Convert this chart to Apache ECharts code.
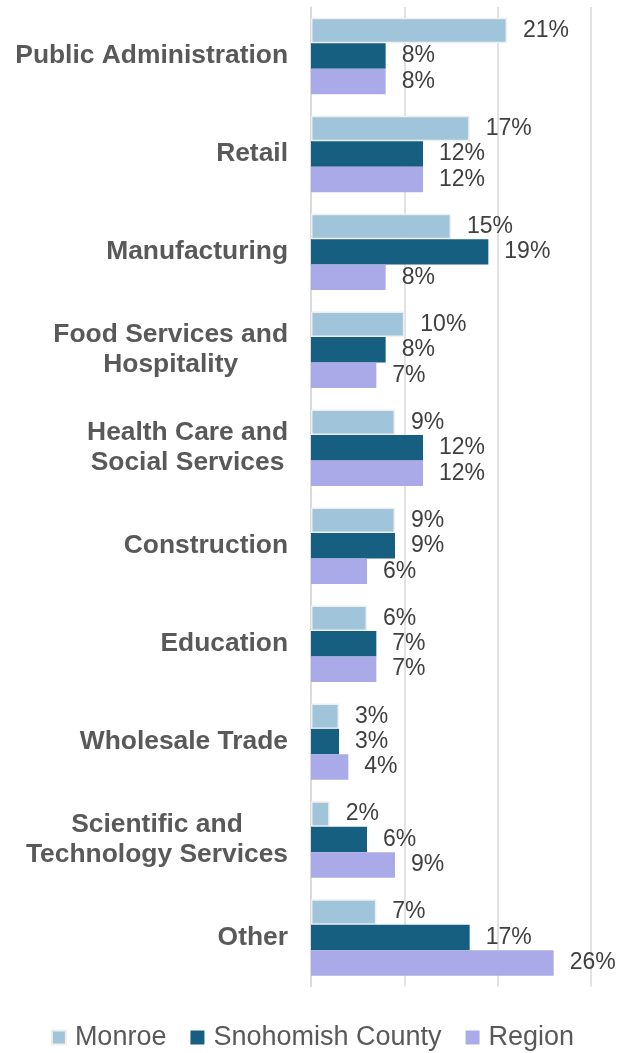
<!DOCTYPE html>
<html>
<head>
<meta charset="utf-8">
<script src="https://cdn.jsdelivr.net/npm/echarts@6/dist/echarts.min.js"></script>
<style>html,body{margin:0;padding:0;background:#fff;}#c{width:625px;height:1053px;}</style>
</head>
<body>
<div id="c"></div>
<script>
var categories = ['Public Administration','Retail','Manufacturing','Food Services and\nHospitality','Health Care and\nSocial Services','Construction','Education','Wholesale Trade','Scientific and\nTechnology Services','Other'];
var seriesNames = ['Monroe','Snohomish County','Region'];
var monroe = [21,17,15,10,9,9,6,3,2,7];
var snohomish = [8,12,19,8,12,9,7,3,6,17];
var region = [8,12,8,7,12,6,7,4,9,26];
var xTicks = [0,10,20,30];

var FONT = '"Liberation Sans", Arial, sans-serif';
var colors = ['#a0c5db','#165f80','#aaaae9'];
var chart = echarts.init(document.getElementById('c'));
function mk(name, data, idx){
  return {
    name: name, type: 'bar', data: data, barGap: '0%', barCategoryGap: '22%',
    itemStyle: idx===0 ? {color: colors[idx], borderColor:'#eeeeee', borderWidth:1.5} : {color: colors[idx]},
    label: {show:true, position:'right', distance:16, formatter:'{c}%', fontSize:23, color:'#404040', fontFamily:FONT},
    emphasis:{disabled:true}
  };
}
chart.setOption({
  animation:false,
  textStyle:{fontFamily:FONT},
  grid:{left:311, right:34, top:7, bottom:66.5, containLabel:false},
  legend:{
    data: seriesNames, bottom: -3, left:'center', icon:'rect', itemWidth:14, itemHeight:14, itemGap:24,
    textStyle:{fontSize:27, color:'#595959', fontFamily:FONT, padding:[0,0,0,4]}
  },
  xAxis:{
    type:'value', min:xTicks[0], max:xTicks[xTicks.length-1], interval:xTicks[1]-xTicks[0],
    axisLabel:{show:false}, axisLine:{show:false}, axisTick:{show:false},
    splitLine:{lineStyle:{color:'#d9d9d9', width:1.5}}
  },
  yAxis:{
    type:'category', data:categories, inverse:true,
    axisLine:{show:true, lineStyle:{color:'#d9d9d9', width:1.5}}, axisTick:{show:false},
    axisLabel:{
      margin:23, align:'right',
      formatter:function(v){ return v.split('\n').map(function(s){return '{c|'+s+'}';}).join('\n'); },
      rich:{c:{align:'center', fontSize:26.4, fontWeight:'bold', color:'#595959', lineHeight:30, fontFamily:FONT}}
    }
  },
  series:[mk(seriesNames[0], monroe, 0), mk(seriesNames[1], snohomish, 1), mk(seriesNames[2], region, 2)]
});
</script>
</body>
</html>
